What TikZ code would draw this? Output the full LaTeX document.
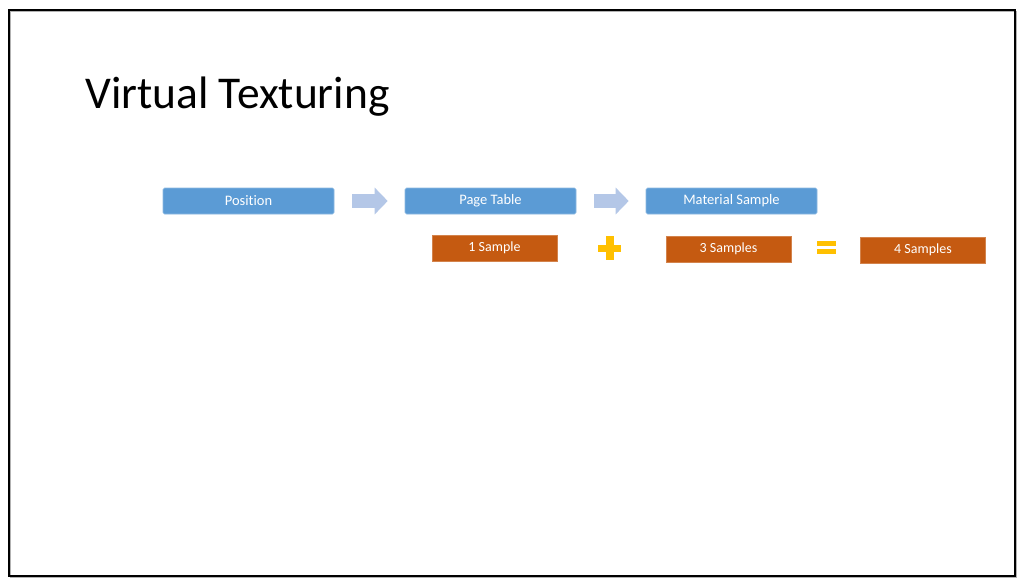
\documentclass[tikz,border=0pt]{standalone}
\usepackage{fontspec}
\setmainfont{Carlito}[Ligatures=NoCommon]
\usetikzlibrary{arrows.meta,calc}
\definecolor{stageblue}{HTML}{5B9BD5}
\definecolor{flowblue}{HTML}{B4C7E7}
\definecolor{burnt}{HTML}{C55A11}
\definecolor{gold}{HTML}{FFC000}
\tikzset{
  stage/.style={rectangle,rounded corners=1.5pt,fill=stageblue,draw=stageblue!70!white,line width=0.6pt,
    minimum width=171pt,minimum height=26pt,inner sep=0pt,text=white,font=\fontsize{14.5}{16}\selectfont},
  samplebox/.style={rectangle,fill=burnt,draw=burnt!75!white,line width=0.6pt,
    minimum width=125pt,minimum height=26pt,inner sep=0pt,text=white,font=\fontsize{14}{16}\selectfont},
  flowarrow/.style={flowblue,line width=14pt,-{Triangle[length=13pt,width=26pt]},shorten <=18pt,shorten >=17pt}
}
\begin{document}
\begin{tikzpicture}[x=1pt,y=-1pt]
\useasboundingbox (0,0) rectangle (1024,584);
\fill[white] (0,0) rectangle (1024,584);
% slide frame
\draw[black!30,line width=1.5pt] (10.5,11.5) rectangle (1016.5,577.5);
\draw[black,line width=2pt] (9,10) rectangle (1015,576);
\node[anchor=base west,inner sep=0pt,font=\fontsize{45.5}{50}\selectfont] (title) at (85,108) {Virtual Texturing};
% pipeline
\node[stage] (pos) at (248.5,201) {Position};
\node[stage] (ptab) at (490.5,201) {Page Table};
\node[stage] (mat) at (731.5,201) {Material Sample};
\draw[flowarrow] (pos.east) -- (ptab.west);
\draw[flowarrow] (ptab.east) -- (mat.west);
% sample count
\node[samplebox] (one) at (494.5,248) {1 Sample};
\node[samplebox] (three) at (728.5,249) {3 Samples};
\node[samplebox] (four) at (923,250) {4 Samples};
\coordinate (plus) at (609.5,248);
\coordinate (eq) at (826,247);
\fill[gold] ($(plus)+(-11.5,-3.5)$) rectangle ($(plus)+(11.5,3.5)$);
\fill[gold] ($(plus)+(-4,-12)$) rectangle ($(plus)+(4,12)$);
\fill[gold] ($(eq)+(-9.5,-6.5)$) rectangle ($(eq)+(9.5,-1.5)$);
\fill[gold] ($(eq)+(-9.5,1.5)$) rectangle ($(eq)+(9.5,6.5)$);
\end{tikzpicture}
\end{document}
